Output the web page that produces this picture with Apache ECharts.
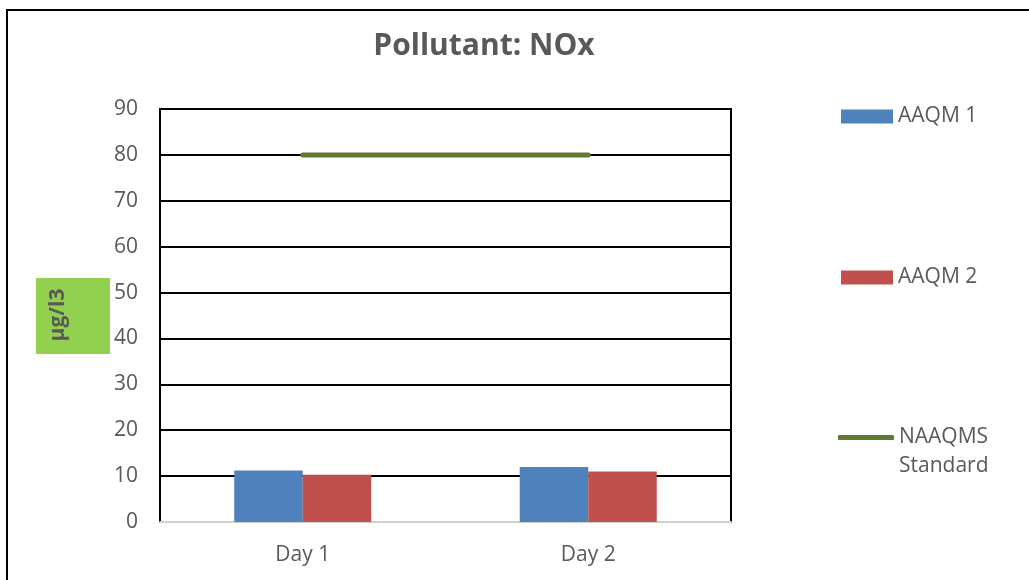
<!DOCTYPE html>
<html>
<head>
<meta charset="utf-8">
<script src="https://cdn.jsdelivr.net/npm/echarts@6/dist/echarts.min.js"></script>
<style>
  html, body { margin: 0; padding: 0; background: #fff; }
  #chart { width: 1029px; height: 580px; }
</style>
</head>
<body>
<div id="chart"></div>
<script>
const days = ['Day 1', 'Day 2'];
const aaqm1 = [11.2, 12.0];
const aaqm2 = [10.3, 11.0];
const naaqms = [80, 80];
const yTicks = {min: 0, max: 90, step: 10};

const font = 'Open Sans';
const grey = '#595959';

const chart = echarts.init(document.getElementById('chart'));
chart.setOption({
    animation: false,
    textStyle: {fontFamily: font},
    title: {
        text: 'Pollutant: NOx',
        left: 479,
        textAlign: 'center',
        top: 26,
        textStyle: {fontSize: 30, fontWeight: 'bold', color: grey, fontFamily: font}
    },
    graphic: [
        {
            type: 'rect',
            silent: true,
            shape: {x: 7, y: 10, width: 1200, height: 800},
            style: {fill: 'none', stroke: '#000', lineWidth: 2}
        },
        {
            type: 'rect',
            silent: true,
            shape: {x: 36, y: 278, width: 74, height: 76},
            style: {fill: '#92d050'}
        },
        {
            type: 'text',
            silent: true,
            x: 58,
            y: 315,
            rotation: Math.PI / 2,
            style: {
                text: 'µg/l3',
                fontSize: 21,
                fontWeight: 'bold',
                fontFamily: font,
                fill: grey,
                align: 'center',
                verticalAlign: 'middle'
            }
        }
    ],
    legend: [
        {
            data: ['AAQM 1'],
            left: 841,
            top: 106,
            padding: 0,
            itemWidth: 52,
            itemHeight: 14,
            icon: 'rect',
            textStyle: {fontSize: 21, color: grey}
        },
        {
            data: ['AAQM 2'],
            left: 841,
            top: 267,
            padding: 0,
            itemWidth: 52,
            itemHeight: 14,
            icon: 'rect',
            textStyle: {fontSize: 21, color: grey}
        },
        {
            data: ['NAAQMS Standard'],
            left: 838,
            top: 394,
            padding: 0,
            itemWidth: 56,
            itemHeight: 5,
            icon: 'roundRect',
            formatter: () => '\nNAAQMS\nStandard',
            textStyle: {fontSize: 21, color: grey, lineHeight: 29}
        }
    ],
    grid: {
        left: 160,
        right: 298,
        top: 109,
        bottom: 58,
        show: true,
        borderColor: '#000',
        borderWidth: 2
    },
    xAxis: {
        type: 'category',
        data: days,
        axisLine: {lineStyle: {color: '#d0d0d0', width: 2}},
        axisTick: {show: false},
        axisLabel: {fontSize: 21, color: grey, margin: 23}
    },
    yAxis: {
        type: 'value',
        min: yTicks.min,
        max: yTicks.max,
        interval: yTicks.step,
        axisLine: {show: false},
        axisTick: {show: false},
        axisLabel: {fontSize: 21, color: grey, margin: 22},
        splitLine: {lineStyle: {color: '#000', width: 2}}
    },
    series: [
        {
            name: 'AAQM 1',
            type: 'bar',
            data: aaqm1,
            barGap: '0%',
            barCategoryGap: '52%',
            itemStyle: {color: '#4f81bd'}
        },
        {
            name: 'AAQM 2',
            type: 'bar',
            data: aaqm2,
            itemStyle: {color: '#c0504d'}
        },
        {
            name: 'NAAQMS Standard',
            type: 'line',
            data: naaqms,
            symbol: 'none',
            itemStyle: {color: '#5e7b32'},
            lineStyle: {color: '#5e7b32', width: 5, cap: 'round'}
        }
    ]
});
</script>
</body>
</html>
